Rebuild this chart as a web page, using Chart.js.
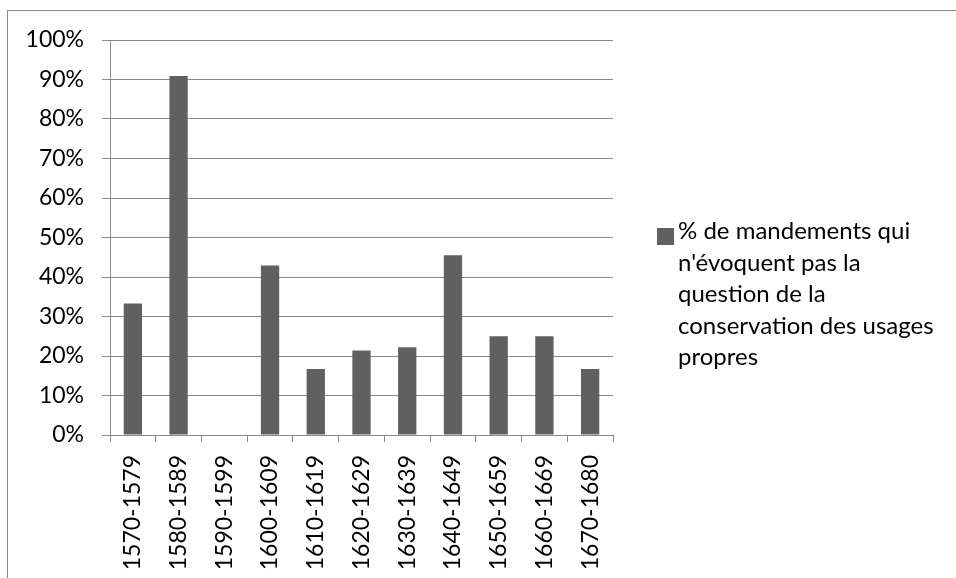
<!DOCTYPE html>
<html>
<head>
<meta charset="utf-8">
<script src="https://cdn.jsdelivr.net/npm/chart.js@4"></script>
<style>
  html, body { margin: 0; padding: 0; background: #fff; }
  body { width: 956px; height: 578px; position: relative; overflow: hidden; font-family: Lato, sans-serif; }
  #frame { position: absolute; left: 7px; top: 10px; width: 980px; height: 600px; border: 1px solid #8a8a8a; box-sizing: border-box; }
  #wrap { position: absolute; left: 0; top: 0; width: 956px; height: 578px; }
  #legend { position: absolute; left: 657px; top: 214px; width: 300px; font-size: 24px; line-height: 31.6px; color: #000; }
  #legend .box { position: absolute; left: 0; top: 14px; width: 17px; height: 17px; background: #606060; }
  #legend .txt { margin-left: 21px; }
</style>
</head>
<body>
<div id="frame"></div>
<div id="wrap"><canvas id="c" width="956" height="578"></canvas></div>
<div id="legend"><span class="box"></span><div class="txt">% de mandements qui<br>n'évoquent pas la<br>question de la<br>conservation des usages<br>propres</div></div>
<script>
const periods = ['1570-1579', '1580-1589', '1590-1599', '1600-1609', '1610-1619', '1620-1629',
  '1630-1639', '1640-1649', '1650-1659', '1660-1669', '1670-1680']
const shareNoMention = [33.3, 90.9, 0, 42.9, 16.7, 21.4, 22.2, 45.5, 25, 25, 16.7]
const seriesName = "% de mandements qui n'évoquent pas la question de la conservation des usages propres"
const yTicks = [0, 10, 20, 30, 40, 50, 60, 70, 80, 90, 100]

const gridColor = '#8a8a8a'
const barColor = '#606060'

window.addEventListener('load', () => {
  const ctx = document.getElementById('c').getContext('2d')
  new Chart(ctx, {
    type: 'bar',
    data: {
      labels: periods,
      datasets: [
        {
          label: seriesName,
          data: shareNoMention,
          backgroundColor: barColor,
          borderWidth: 0,
          barPercentage: 0.4,
          categoryPercentage: 1,
        },
      ],
    },
    options: {
      responsive: false,
      animation: false,
      layout: { padding: { left: 0, top: 40, right: 343, bottom: 0 } },
      plugins: {
        legend: { display: false },
        tooltip: { enabled: false },
      },
      scales: {
        x: {
          offset: true,
          grid: { offset: true, drawOnChartArea: false, drawTicks: true, tickLength: 7, color: gridColor, lineWidth: 1 },
          border: { color: gridColor, width: 1 },
          ticks: {
            color: '#000',
            font: { family: 'Lato', size: 23 },
            minRotation: 90,
            maxRotation: 90,
            padding: 13,
            autoSkip: false,
          },
          afterFit: (scale) => { scale.height = 143 },
        },
        y: {
          min: 0,
          max: 100,
          afterBuildTicks: (scale) => { scale.ticks = yTicks.map((v) => ({ value: v })) },
          grid: { color: gridColor, lineWidth: 1, tickLength: 8 },
          border: { color: gridColor, width: 1 },
          ticks: {
            color: '#000',
            font: { family: 'Lato', size: 23 },
            padding: 18,
            callback: (v) => v + '%',
          },
          afterFit: (scale) => { scale.width = 110 },
        },
      },
    },
  })
})
</script>
</body>
</html>
